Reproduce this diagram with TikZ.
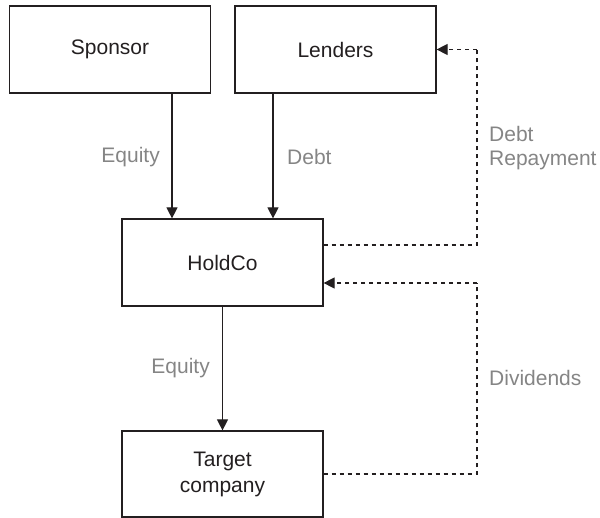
\documentclass[tikz,border=0pt]{standalone}
\usepackage{fontspec}
\setmainfont{Liberation Sans}
\usetikzlibrary{arrows.meta,calc}
\definecolor{ink}{HTML}{231F20}
\definecolor{lbl}{HTML}{858585}
\begin{document}
\begin{tikzpicture}[x=1pt,y=-1pt,
  box/.style={draw=ink,line width=1.2pt,minimum width=201pt,minimum height=87pt,
    align=center,text=ink,font=\fontsize{21}{26}\selectfont,inner sep=0pt},
  lab/.style={text=lbl,font=\fontsize{21}{24}\selectfont,inner sep=0pt,align=left},
  arr/.style={draw=ink,line width=1.2pt,-{Triangle[width=11pt,length=11pt]}},
  dsh/.style={draw=ink,line width=1.1pt,dash pattern=on 4.5pt off 3.5pt}]
\useasboundingbox (0,0) rectangle (600,518);
\node[box] (sp) at (110,49.5) {Sponsor};
\node[box] (le) at (335.5,49.5) {Lenders};
\node[box] (hc) at (222.5,262.5) {HoldCo};
\node[box,minimum height=86pt] (tc) at (222.5,474) {Target\\company};
\coordinate (a1) at ($(hc.north)+(-50.5,0)$);
\coordinate (a2) at ($(hc.north)+(50.5,0)$);
\coordinate (rx) at (477,0);
\draw[arr] (a1 |- sp.south) -- (a1);
\draw[arr] (a2 |- le.south) -- (a2);
\draw[arr] (hc.south) -- (tc.north);
\draw[dsh] ($(hc.east)+(0,-17.5)$) -| (rx |- le.east);
\draw[dsh,-{Triangle[width=11pt,length=11pt]}] (rx |- le.east) -- (le.east);
\draw[dsh] (tc.east) -| (rx |- {$(hc.east)+(0,20.5)$});
\draw[dsh,-{Triangle[width=11pt,length=11pt]}] (rx |- {$(hc.east)+(0,20.5)$}) -- ($(hc.east)+(0,20.5)$);
\node[lab,anchor=east] (l1) at (160,157) {Equity};
\node[lab,anchor=west] (l2) at (287,157) {Debt};
\node[lab,anchor=east] (l3) at (210,368) {Equity};
\node[lab,anchor=west] (l4) at (489,148) {Debt\\Repayment};
\node[lab,anchor=west] (l5) at (489,378) {Dividends};
\end{tikzpicture}
\end{document}
